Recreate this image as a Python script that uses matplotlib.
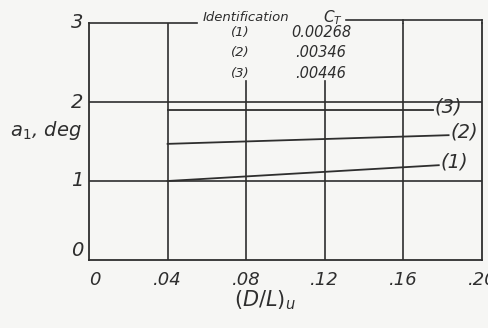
import matplotlib.pyplot as plt

# Grid values
x_ticks = [0, 0.04, 0.08, 0.12, 0.16, 0.20]
x_tick_labels = ['0', '.04', '.08', '.12', '.16', '.20']
y_ticks = [0, 1, 2, 3]
y_tick_labels = ['0', '1', '2', '3']

# Curves: a1 vs (D/L)u, one per thrust coefficient
curve_names = ['(1)', '(2)', '(3)']
ct_values = ['0.00268', '.00346', '.00446']
curve_x = [[0.04, 0.178], [0.04, 0.183], [0.04, 0.175]]
curve_y = [[1.0, 1.2], [1.47, 1.58], [1.9, 1.9]]

ink = '#2e2e2e'
W, H = 489, 328
fig = plt.figure(figsize=(W / 100, H / 100), dpi=100, facecolor='#f6f6f4')
ax = fig.add_axes([89 / W, (H - 260) / H, (482 - 89) / W, (260 - 23) / H])
ax.set_facecolor('#f6f6f4')
ax.set_xlim(0, 0.20)
ax.set_ylim(0, 3)
ax.spines['top'].set_visible(False)
for s in ['left', 'bottom', 'right']:
    ax.spines[s].set_color(ink)
    ax.spines[s].set_linewidth(1.3)
ax.tick_params(length=0, pad=4)
ax.set_xticks(x_ticks)
ax.set_yticks(y_ticks)
ax.set_xticklabels([])
ax.set_yticklabels([])

hand = dict(color=ink, style='italic', family='DejaVu Sans')

# hand-lettered tick labels
for xv, lab in zip(x_ticks, x_tick_labels):
    ax.text(xv, -0.14, lab, ha='left' if xv == 0 else 'center', va='top', fontsize=13, **hand)
for yv, lab in zip(y_ticks, y_tick_labels):
    ax.text(-0.003, yv, lab, ha='right', va='center' if yv else 'bottom', fontsize=14, **hand)

# grid
for yv in [1, 2]:
    ax.plot([0, 0.20], [yv, yv], color=ink, lw=1.2)
for xv in [0.04, 0.16]:
    ax.plot([xv, xv], [0, 3], color=ink, lw=1.2)
for xv in [0.08, 0.12]:
    ax.plot([xv, xv], [0, 2.26], color=ink, lw=1.2)
# top border, broken around the legend heading
ax.plot([0, 0.055], [3, 3], color=ink, lw=1.2, clip_on=False)
ax.plot([0.131, 0.20], [3.04, 3.04], color=ink, lw=1.2, clip_on=False)
ax.plot([0.16, 0.16], [3, 3.04], color=ink, lw=1.2, clip_on=False)
ax.plot([0.20, 0.20], [3, 3.04], color=ink, lw=1.2, clip_on=False)

# curves with end labels
for name, xs, ys in zip(curve_names, curve_x, curve_y):
    ax.plot(xs, ys, color=ink, lw=1.3)
    ax.text(xs[-1] + 0.001, ys[-1] + 0.04, name, ha='left', va='center', fontsize=14, **hand)

# legend table
ax.text(0.058, 3.07, 'Identification', ha='left', va='center', fontsize=9.5, **hand)
ax.text(0.119, 3.07, '$C_T$', ha='left', va='center', fontsize=11, color=ink)
for i, (name, ct) in enumerate(zip(curve_names, ct_values)):
    yy = [2.88, 2.63, 2.36][i]
    ax.text(0.077, yy, name, ha='center', va='center', fontsize=9.5, **hand)
    ax.text(0.118, yy, ct, ha='center', va='center', fontsize=10.5, **hand)

# axis labels
fig.text(46 / W, 1 - 130 / H, 'a$_1$, deg', ha='center', va='center', fontsize=14, **hand)
fig.text(265 / W, 1 - 300 / H, r'$(D/L)_u$', ha='center', va='center', fontsize=15, color=ink)

fig.savefig('out.png', dpi=100, facecolor=fig.get_facecolor())
